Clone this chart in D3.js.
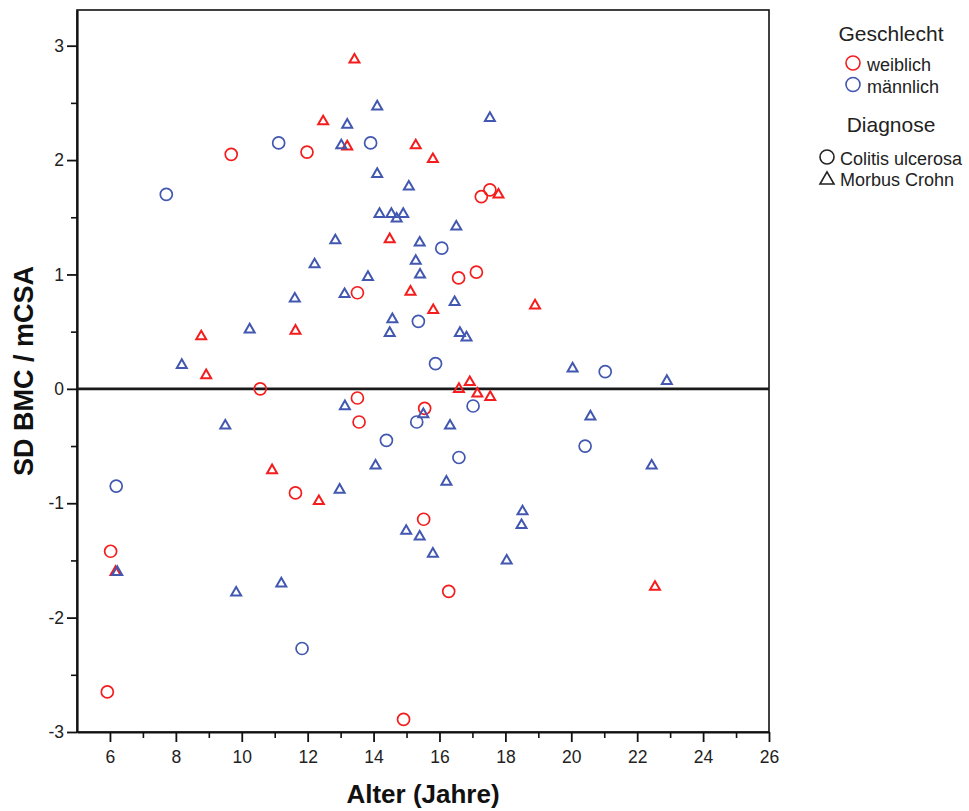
<!DOCTYPE html>
<html>
<head>
<meta charset="utf-8">
<script src="https://cdn.jsdelivr.net/npm/d3@7"></script>
<style>
  body { margin: 0; background: #fff; }
  svg text { font-family: "Liberation Sans", Arial, sans-serif; }
</style>
</head>
<body>
<div id="chart"></div>
<script>
// [Alter, SD BMC / mCSA] pairs per group
var weiblichColitis = [
  [9.68, 2.05], [11.98, 2.07], [13.51, 0.84], [10.56, 0.00], [13.51, -0.08],
  [13.56, -0.29], [11.63, -0.91], [15.52, -1.14], [6.02, -1.42], [16.28, -1.77],
  [5.92, -2.65], [14.91, -2.89], [16.58, 0.97], [17.12, 1.02], [17.27, 1.68],
  [17.53, 1.74], [15.55, -0.17]
];
var maennlichColitis = [
  [7.71, 1.70], [11.12, 2.15], [13.91, 2.15], [16.07, 1.23], [15.36, 0.59],
  [15.88, 0.22], [21.03, 0.15], [17.02, -0.15], [15.31, -0.29], [14.39, -0.45],
  [16.59, -0.60], [20.42, -0.50], [6.19, -0.85], [11.83, -2.27]
];
var weiblichCrohn = [
  [13.42, 2.89], [12.47, 2.35], [13.20, 2.13], [15.28, 2.14], [15.80, 2.02],
  [17.79, 1.71], [14.49, 1.32], [15.12, 0.86], [15.81, 0.70], [18.90, 0.74],
  [16.92, 0.07], [16.59, 0.01], [17.15, -0.03], [17.54, -0.06], [12.34, -0.97],
  [8.77, 0.47], [8.92, 0.13], [11.63, 0.52], [10.92, -0.70], [6.17, -1.59],
  [22.54, -1.72]
];
var maennlichCrohn = [
  [14.11, 2.48], [17.53, 2.38], [13.20, 2.32], [13.02, 2.14], [14.11, 1.89],
  [15.07, 1.78], [14.18, 1.54], [14.54, 1.54], [14.70, 1.50], [14.90, 1.54],
  [16.51, 1.43], [12.84, 1.31], [15.40, 1.29], [12.21, 1.10], [15.28, 1.13],
  [13.83, 0.99], [15.41, 1.01], [13.12, 0.84], [16.46, 0.77], [14.57, 0.62],
  [14.49, 0.50], [16.62, 0.50], [16.82, 0.46], [20.04, 0.19], [13.13, -0.14],
  [15.51, -0.21], [16.32, -0.31], [20.58, -0.23], [14.06, -0.66], [16.21, -0.80],
  [12.97, -0.87], [18.52, -1.06], [18.49, -1.18], [14.99, -1.23], [15.40, -1.28],
  [15.80, -1.43], [18.04, -1.49], [11.61, 0.80], [10.24, 0.53], [8.18, 0.22],
  [9.50, -0.31], [22.90, 0.08], [22.44, -0.66], [9.83, -1.77], [11.20, -1.69],
  [6.22, -1.59]
];

var xTicks = [6, 8, 10, 12, 14, 16, 18, 20, 22, 24, 26];
var xMinor = [7, 9, 11, 13, 15, 17, 19, 21, 23, 25];
var yTicks = [-3, -2, -1, 0, 1, 2, 3];
var yMinor = [-2.5, -1.5, -0.5, 0.5, 1.5, 2.5];

var sexLabels = ['weiblich', 'männlich'];
var diagLabels = ['Colitis ulcerosa', 'Morbus Crohn'];

var W = 969, H = 811;
var plot = { left: 77, right: 769, top: 10, bottom: 732 };
var red = '#f41c1c', blue = '#4157b0';

var svg = d3.select('#chart').append('svg')
  .attr('width', W).attr('height', H);

var x = d3.scaleLinear().domain([5, 26]).range([plot.left, plot.right]);
var y = d3.scaleLinear().domain([-3, 3.312]).range([plot.bottom, plot.top]);

// plain hyphen for negatives, like the original
var plain = function(d) { return String(d); };

// frame
svg.append('rect')
  .attr('x', plot.left).attr('y', plot.top)
  .attr('width', plot.right - plot.left).attr('height', plot.bottom - plot.top)
  .attr('fill', 'none').attr('stroke', '#111').attr('stroke-width', 1.6);

// minor ticks
svg.append('g').attr('transform', 'translate(0,' + plot.bottom + ')')
  .call(d3.axisBottom(x).tickValues(xMinor).tickSize(6).tickFormat(''))
  .call(function(g) { g.select('.domain').remove(); })
  .selectAll('line').attr('stroke', '#111').attr('stroke-width', 1.6);
svg.append('g').attr('transform', 'translate(' + plot.left + ',0)')
  .call(d3.axisLeft(y).tickValues(yMinor).tickSize(6).tickFormat(''))
  .call(function(g) { g.select('.domain').remove(); })
  .selectAll('line').attr('stroke', '#111').attr('stroke-width', 1.6);

// major axes
var xAxis = svg.append('g').attr('transform', 'translate(0,' + plot.bottom + ')')
  .call(d3.axisBottom(x).tickValues(xTicks).tickFormat(plain)
    .tickSize(10).tickPadding(9).tickSizeOuter(0));
var yAxis = svg.append('g').attr('transform', 'translate(' + plot.left + ',0)')
  .call(d3.axisLeft(y).tickValues(yTicks).tickFormat(plain)
    .tickSize(10).tickPadding(3).tickSizeOuter(0));
[xAxis, yAxis].forEach(function(a) {
  a.select('.domain').attr('stroke', '#111').attr('stroke-width', 2.2);
  a.selectAll('line').attr('stroke', '#111').attr('stroke-width', 1.8);
  a.selectAll('text').attr('fill', '#222').style('font-size', '17.5px')
    .style('font-family', '"Liberation Sans", Arial, sans-serif');
});

// reference line at 0
svg.append('line')
  .attr('x1', plot.left).attr('x2', plot.right)
  .attr('y1', y(0)).attr('y2', y(0))
  .attr('stroke', '#1a1a1a').attr('stroke-width', 2.6);

// points
function circles(data, color) {
  svg.append('g').selectAll('circle').data(data).enter().append('circle')
    .attr('cx', function(d) { return x(d[0]); })
    .attr('cy', function(d) { return y(d[1]); })
    .attr('r', 6)
    .attr('fill', 'none').attr('stroke', color).attr('stroke-width', 1.7);
}
var tri = d3.symbol().type(d3.symbolTriangle).size(43);
function triangles(data, color) {
  svg.append('g').selectAll('path').data(data).enter().append('path')
    .attr('d', tri)
    .attr('transform', function(d) { return 'translate(' + x(d[0]) + ',' + (y(d[1]) + 1.4) + ')'; })
    .attr('fill', 'none').attr('stroke', color).attr('stroke-width', 2)
    .attr('stroke-linejoin', 'miter');
}
circles(weiblichColitis, red);
circles(maennlichColitis, blue);
triangles(weiblichCrohn, red);
triangles(maennlichCrohn, blue);

// axis titles
svg.append('text')
  .attr('x', (plot.left + plot.right) / 2).attr('y', 803)
  .attr('text-anchor', 'middle')
  .style('font-size', '26px').style('font-weight', 'bold').attr('fill', '#111')
  .text('Alter (Jahre)');
svg.append('text')
  .attr('transform', 'translate(33,' + (plot.top + plot.bottom) / 2 + ') rotate(-90)')
  .attr('text-anchor', 'middle')
  .style('font-size', '27px').style('font-weight', 'bold').attr('fill', '#111')
  .text('SD BMC / mCSA');

// legend
var leg = svg.append('g');
leg.append('text').attr('x', 891).attr('y', 40.5).attr('text-anchor', 'middle')
  .style('font-size', '21px').attr('fill', '#222').text('Geschlecht');
sexLabels.forEach(function(lbl, i) {
  var cy = 63 + i * 21.5;
  leg.append('circle').attr('cx', 853).attr('cy', cy).attr('r', 7)
    .attr('fill', 'none').attr('stroke', i === 0 ? red : blue).attr('stroke-width', 1.6);
  leg.append('text').attr('x', 867).attr('y', cy + 8)
    .style('font-size', '18px').attr('fill', '#222').text(lbl);
});
leg.append('text').attr('x', 891).attr('y', 132).attr('text-anchor', 'middle')
  .style('font-size', '21px').attr('fill', '#222').text('Diagnose');
diagLabels.forEach(function(lbl, i) {
  var cy = 157 + i * 21;
  if (i === 0) {
    leg.append('circle').attr('cx', 827).attr('cy', cy).attr('r', 7)
      .attr('fill', 'none').attr('stroke', '#222').attr('stroke-width', 1.6);
  } else {
    leg.append('path').attr('d', d3.symbol().type(d3.symbolTriangle).size(85)())
      .attr('transform', 'translate(827,' + (cy + 2) + ')')
      .attr('fill', 'none').attr('stroke', '#222').attr('stroke-width', 1.6);
  }
  leg.append('text').attr('x', 840).attr('y', cy + 8)
    .style('font-size', '18px').attr('fill', '#222').text(lbl);
});
</script>
</body>
</html>
